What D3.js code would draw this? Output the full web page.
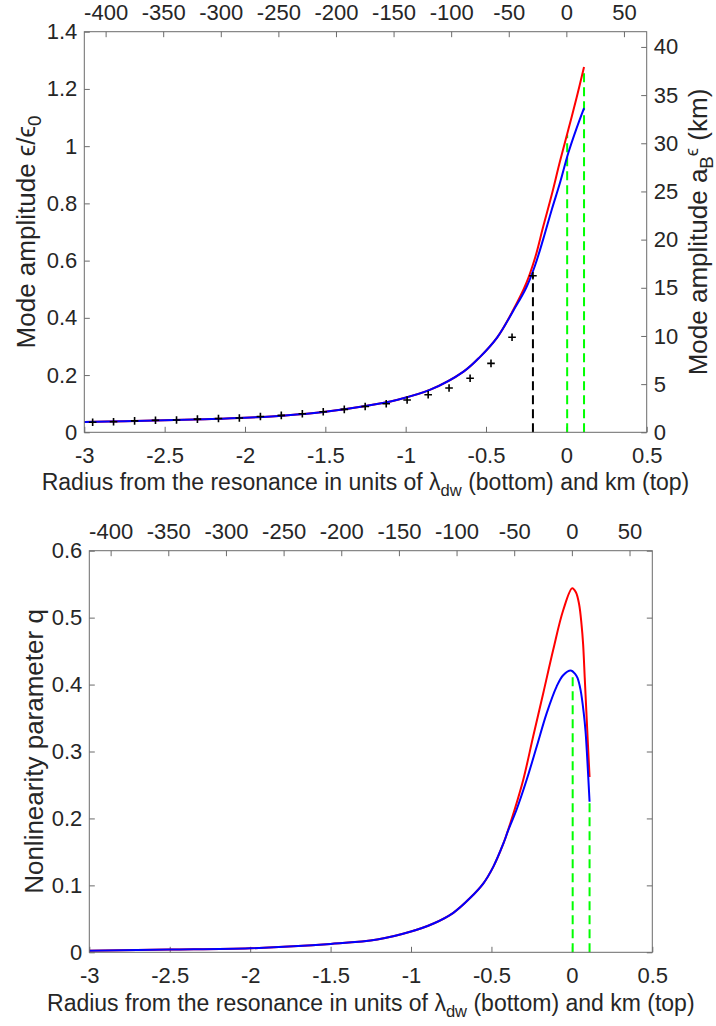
<!DOCTYPE html>
<html>
<head>
<meta charset="utf-8">
<script src="https://cdn.jsdelivr.net/npm/d3@7"></script>
<style>
  html, body { margin: 0; padding: 0; background: #fff; }
  svg text { font-family: "Liberation Sans", Arial, Helvetica, sans-serif; fill: #262626; }
</style>
</head>
<body>
<svg id="fig" width="716" height="1026"></svg>
<script>
// ---------- axes ticks ----------
const lambdaTicks = [-3, -2.5, -2, -1.5, -1, -0.5, 0, 0.5];
const kmTicks = [-400, -350, -300, -250, -200, -150, -100, -50, 0, 50];
const ampTicks = [0, 0.2, 0.4, 0.6, 0.8, 1, 1.2, 1.4];
const ampKmTicks = [0, 5, 10, 15, 20, 25, 30, 35, 40];
const qTicks = [0, 0.1, 0.2, 0.3, 0.4, 0.5, 0.6];

// km per density-wave wavelength, and a_B * eps0 in km
const kmPerLambda = 139.5;
const aBeps0 = 29.7;

// ---------- upper panel: mode amplitude eps/eps0 ----------
const ampRedR   = [-3.0, -2.75, -2.5, -2.25, -2.0, -1.75, -1.5, -1.25, -1.05, -0.85, -0.64, -0.54, -0.43, -0.33, -0.25, -0.195, -0.144, -0.091, -0.04, 0.012, 0.064, 0.11];
const ampRedV   = [0.036, 0.039, 0.042, 0.046, 0.051, 0.059, 0.072, 0.092, 0.114, 0.148, 0.212, 0.262, 0.332, 0.428, 0.52, 0.609, 0.719, 0.83, 0.946, 1.057, 1.17, 1.277];
const ampBlueR  = [-3.0, -2.75, -2.5, -2.25, -2.0, -1.75, -1.5, -1.25, -1.05, -0.85, -0.64, -0.54, -0.43, -0.33, -0.25, -0.195, -0.144, -0.091, -0.04, 0.012, 0.064, 0.11];
const ampBlueV  = [0.036, 0.039, 0.042, 0.046, 0.051, 0.059, 0.072, 0.092, 0.114, 0.148, 0.212, 0.262, 0.332, 0.425, 0.505, 0.583, 0.675, 0.778, 0.871, 0.976, 1.063, 1.133];

// measured amplitudes (plus markers)
const obsR = [-2.948, -2.818, -2.687, -2.557, -2.426, -2.296, -2.165, -2.035, -1.904, -1.774, -1.643, -1.513, -1.382, -1.252, -1.121, -0.991, -0.86, -0.73, -0.599, -0.469, -0.338, -0.208];
const obsV = [0.035, 0.037, 0.040, 0.042, 0.043, 0.046, 0.048, 0.050, 0.055, 0.059, 0.065, 0.072, 0.080, 0.090, 0.100, 0.113, 0.131, 0.155, 0.189, 0.241, 0.332, 0.547];

// vertical markers in the upper panel
const ampBlackR = [-0.208];
const ampBlackTop = [0.547];
const ampGreenR = [0.005, 0.11];
const ampGreenTop = [1.04, 1.27];

// ---------- lower panel: nonlinearity parameter q ----------
const qRedR  = [-3.0, -2.5, -2.0, -1.5, -1.21, -1.0, -0.86, -0.737, -0.633, -0.55, -0.488, -0.425, -0.396, -0.365, -0.303, -0.241, -0.178, -0.116, -0.054, 0.002, 0.025, 0.045, 0.06, 0.07, 0.08, 0.09, 0.1, 0.11];
const qRedV  = [0.0024, 0.004, 0.006, 0.0124, 0.019, 0.031, 0.043, 0.059, 0.081, 0.103, 0.128, 0.163, 0.183, 0.206, 0.257, 0.322, 0.387, 0.452, 0.511, 0.544, 0.538, 0.52, 0.49, 0.46, 0.41, 0.36, 0.31, 0.262];
const qBlueR = [-3.0, -2.5, -2.0, -1.5, -1.21, -1.0, -0.86, -0.737, -0.633, -0.55, -0.488, -0.425, -0.396, -0.344, -0.282, -0.219, -0.157, -0.095, -0.054, -0.006, 0.02, 0.035, 0.054, 0.074, 0.085, 0.095, 0.11];
const qBlueV = [0.0024, 0.004, 0.006, 0.0124, 0.019, 0.031, 0.043, 0.059, 0.081, 0.103, 0.128, 0.163, 0.182, 0.213, 0.257, 0.307, 0.357, 0.397, 0.414, 0.421, 0.416, 0.41, 0.392, 0.357, 0.33, 0.292, 0.225];

const qGreenR = [0.005, 0.11];
const qGreenTop = [0.42, 0.225];

// ---------- drawing ----------
const svg = d3.select("#fig");
svg.append("rect").attr("width", 716).attr("height", 1026).attr("fill", "#fff");

const AXIS = "#6b6b6b";
const TICK = 5.5;
const FS_TICK = 22;
const fmt = d => String(d);
const zip = (a, b) => a.map((x, i) => [x, b[i]]);

function styleAxis(g) {
  g.select(".domain").remove();
  g.selectAll(".tick line").attr("stroke", AXIS).attr("stroke-width", 1);
  g.selectAll(".tick text").attr("fill", "#262626").attr("font-size", FS_TICK)
    .attr("font-family", '"Liberation Sans", Arial, sans-serif');
}

function panel(box) {
  const g = svg.append("g");
  const x = d3.scaleLinear().domain([-3, 0.5]).range([box.left, box.right]);
  const xKm = d3.scaleLinear().domain([-3 * kmPerLambda, 0.5 * kmPerLambda]).range([box.left, box.right]);
  // bottom lambda axis, ticks pointing inward
  g.append("g").attr("transform", `translate(0,${box.bottom})`)
    .call(d3.axisBottom(x).tickValues(lambdaTicks).tickFormat(fmt).tickSizeInner(-TICK).tickSizeOuter(0).tickPadding(15))
    .call(styleAxis);
  // top km axis
  g.append("g").attr("transform", `translate(0,${box.top})`)
    .call(d3.axisTop(xKm).tickValues(kmTicks).tickFormat(fmt).tickSizeInner(-TICK).tickSizeOuter(0).tickPadding(11.7))
    .call(styleAxis);
  return { g, x };
}

function frame(g, box) {
  g.append("rect")
    .attr("x", box.left).attr("y", box.top)
    .attr("width", box.right - box.left).attr("height", box.bottom - box.top)
    .attr("fill", "none").attr("stroke", AXIS).attr("stroke-width", 1);
}

function curve(g, x, y, pts, color) {
  g.append("path")
    .datum(pts)
    .attr("fill", "none")
    .attr("stroke", color)
    .attr("stroke-width", 2)
    .attr("stroke-linejoin", "round")
    .attr("d", d3.line().x(d => x(d[0])).y(d => y(d[1])).curve(d3.curveCatmullRom.alpha(0.5)));
}

function vlines(g, x, y, rs, tops, color) {
  g.selectAll(null).data(zip(rs, tops)).join("line")
    .attr("x1", d => x(d[0])).attr("x2", d => x(d[0]))
    .attr("y1", y(0)).attr("y2", d => y(d[1]))
    .attr("stroke", color).attr("stroke-width", 2)
    .attr("stroke-dasharray", "9,5");
}

// ===== upper panel =====
const boxA = { left: 84.3, right: 646.7, top: 31.7, bottom: 432.3 };
const A = panel(boxA);
const yA = d3.scaleLinear().domain([0, 1.4]).range([boxA.bottom, boxA.top]);
const yAkm = d3.scaleLinear().domain([0, 1.4 * aBeps0]).range([boxA.bottom, boxA.top]);

A.g.append("g").attr("transform", `translate(${boxA.left},0)`)
  .call(d3.axisLeft(yA).tickValues(ampTicks).tickFormat(fmt).tickSizeInner(-TICK).tickSizeOuter(0).tickPadding(7))
  .call(styleAxis);
A.g.append("g").attr("transform", `translate(${boxA.right},0)`)
  .call(d3.axisRight(yAkm).tickValues(ampKmTicks).tickFormat(fmt).tickSizeInner(-TICK).tickSizeOuter(0).tickPadding(7))
  .call(styleAxis);

vlines(A.g, A.x, yA, ampBlackR, ampBlackTop, "#000");
vlines(A.g, A.x, yA, ampGreenR, ampGreenTop, "#00ff00");
curve(A.g, A.x, yA, zip(ampRedR, ampRedV), "#ff0000");
curve(A.g, A.x, yA, zip(ampBlueR, ampBlueV), "#0000ff");

// plus markers
const plusSize = 3.8;
A.g.selectAll(null).data(zip(obsR, obsV)).join("path")
  .attr("transform", d => `translate(${A.x(d[0])},${yA(d[1])})`)
  .attr("d", `M${-plusSize},0H${plusSize}M0,${-plusSize}V${plusSize}`)
  .attr("stroke", "#000").attr("stroke-width", 1.6).attr("fill", "none");

frame(A.g, boxA);

// ===== lower panel =====
const boxB = { left: 89.3, right: 652.3, top: 550.7, bottom: 952.3 };
const B = panel(boxB);
const yB = d3.scaleLinear().domain([0, 0.6]).range([boxB.bottom, boxB.top]);

B.g.append("g").attr("transform", `translate(${boxB.left},0)`)
  .call(d3.axisLeft(yB).tickValues(qTicks).tickFormat(fmt).tickSizeInner(-TICK).tickSizeOuter(0).tickPadding(7))
  .call(styleAxis);
// mirrored ticks on the right edge, unlabelled
B.g.append("g").attr("transform", `translate(${boxB.right},0)`)
  .call(d3.axisRight(yB).tickValues(qTicks).tickFormat("").tickSizeInner(-TICK).tickSizeOuter(0))
  .call(styleAxis);

vlines(B.g, B.x, yB, qGreenR, qGreenTop, "#00ff00");
curve(B.g, B.x, yB, zip(qRedR, qRedV), "#ff0000");
curve(B.g, B.x, yB, zip(qBlueR, qBlueV), "#0000ff");
frame(B.g, boxB);

// ---------- labels ----------
const FS_X = 23, FS_Y = 26;

function xLabel(cx, baseline) {
  const t = svg.append("text").attr("x", cx).attr("y", baseline)
    .attr("text-anchor", "middle").attr("font-size", FS_X);
  t.append("tspan").text("Radius from the resonance in units of λ");
  t.append("tspan").attr("dy", 6).attr("font-size", FS_X * 0.72).text("dw");
  t.append("tspan").attr("dy", -6).text(" (bottom) and km (top)");
}
xLabel((boxA.left + boxA.right) / 2, 490);
xLabel((boxB.left + boxB.right) / 2, 1011);

// left label, upper panel
{
  const cy = (boxA.top + boxA.bottom) / 2;
  const t = svg.append("text").attr("transform", `translate(35,${cy}) rotate(-90)`)
    .attr("text-anchor", "middle").attr("font-size", FS_Y);
  t.append("tspan").text("Mode amplitude ϵ/ϵ");
  t.append("tspan").attr("dy", 6).attr("font-size", FS_Y * 0.72).text("0");
}
// right label, upper panel
{
  const cy = (boxA.top + boxA.bottom) / 2;
  const t = svg.append("text").attr("transform", `translate(707,${cy}) rotate(-90)`)
    .attr("text-anchor", "middle").attr("font-size", FS_Y);
  t.append("tspan").text("Mode amplitude a");
  t.append("tspan").attr("dy", 6).attr("font-size", FS_Y * 0.72).text("B");
  t.append("tspan").attr("dy", -15).attr("font-size", FS_Y * 0.72).text("ϵ");
  t.append("tspan").attr("dy", 9).text(" (km)");
}
// left label, lower panel
{
  const cy = (boxB.top + boxB.bottom) / 2;
  svg.append("text").attr("transform", `translate(43,${cy}) rotate(-90)`)
    .attr("text-anchor", "middle").attr("font-size", FS_Y)
    .text("Nonlinearity parameter q");
}
</script>
</body>
</html>
